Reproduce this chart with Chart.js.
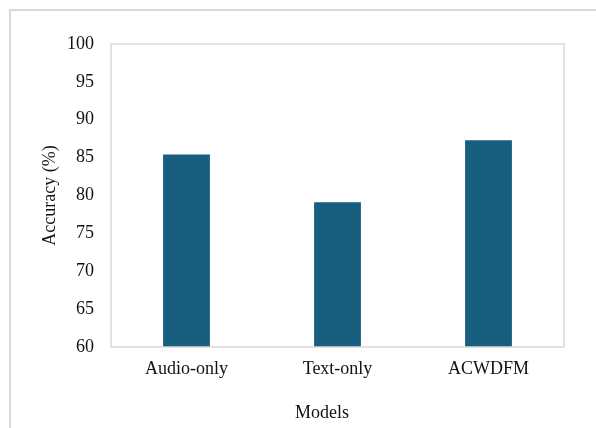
<!DOCTYPE html>
<html>
<head>
<meta charset="utf-8">
<script src="https://cdn.jsdelivr.net/npm/chart.js@4/dist/chart.umd.min.js"></script>
<style>
  html, body { margin: 0; padding: 0; background: #ffffff; }
  #wrap { width: 596px; height: 428px; position: relative; }
</style>
</head>
<body>
<div id="wrap"><canvas id="chart" width="596" height="428"></canvas></div>
<script>
// Model accuracy comparison
const models = ['Audio-only', 'Text-only', 'ACWDFM'];
const accuracy = [85.4, 79.1, 87.3];
const yTicks = [60, 65, 70, 75, 80, 85, 90, 95, 100];

const serif = "'Liberation Serif', 'Times New Roman', serif";
const textColor = '#111111';
const frameColor = '#d9d9d9';

// Outer chart frame plus a box around the plot area
const framePlugin = {
  id: 'frames',
  beforeDraw(chart) {
    const ctx = chart.ctx;
    ctx.save();
    ctx.fillStyle = '#ffffff';
    ctx.fillRect(0, 0, chart.width, chart.height);
    ctx.strokeStyle = frameColor;
    ctx.lineWidth = 2;
    ctx.strokeRect(10, 10, chart.width + 20, chart.height + 20);
    ctx.restore();
  },
  afterDatasetsDraw(chart) {
    const { ctx, chartArea: a } = chart;
    ctx.save();
    ctx.strokeStyle = frameColor;
    ctx.lineWidth = 1.5;
    ctx.strokeRect(a.left, a.top, a.right - a.left, a.bottom - a.top);
    ctx.restore();
  }
};

// Horizontal axis caption
const xCaptionPlugin = {
  id: 'xCaption',
  afterDraw(chart) {
    const ctx = chart.ctx;
    ctx.save();
    ctx.font = '18px ' + serif;
    ctx.fillStyle = textColor;
    ctx.textAlign = 'center';
    ctx.textBaseline = 'middle';
    ctx.fillText('Models', 322, 413);
    ctx.restore();
  }
};

new Chart(document.getElementById('chart'), {
  type: 'bar',
  data: {
    labels: models,
    datasets: [{
      label: 'Accuracy (%)',
      data: accuracy,
      backgroundColor: '#185E7E',
      borderWidth: 0,
      categoryPercentage: 1.0,
      barPercentage: 0.31
    }]
  },
  options: {
    responsive: false,
    animation: false,
    layout: { padding: { left: 39, right: 32, top: 44, bottom: 0 } },
    plugins: {
      legend: { display: false },
      tooltip: { enabled: false }
    },
    scales: {
      x: {
        grid: { display: false, drawTicks: false },
        border: { display: false },
        ticks: { color: textColor, font: { family: serif, size: 18 }, padding: 11 },
        afterFit(scale) { scale.height = 81; }
      },
      y: {
        min: 60,
        max: 100,
        afterBuildTicks(scale) { scale.ticks = yTicks.map(v => ({ value: v })); },
        grid: { display: false, drawTicks: false },
        border: { display: false },
        ticks: { color: textColor, font: { family: serif, size: 18 }, padding: 17 },
        title: {
          display: true,
          text: 'Accuracy (%)',
          color: textColor,
          font: { family: serif, size: 18 },
          padding: 0
        },
        afterFit(scale) { scale.width = 72; }
      }
    }
  },
  plugins: [framePlugin, xCaptionPlugin]
});
</script>
</body>
</html>
